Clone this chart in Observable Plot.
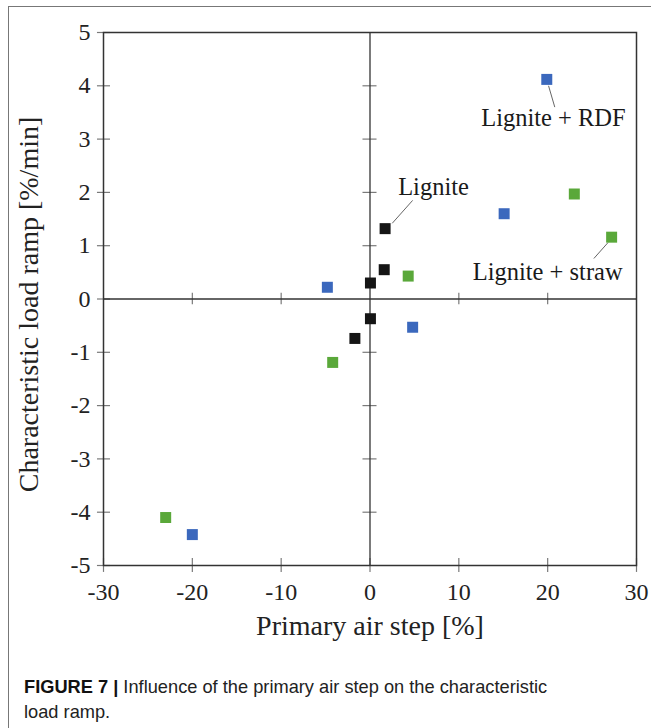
<!DOCTYPE html>
<html><head><meta charset="utf-8">
<script src="https://cdn.jsdelivr.net/npm/d3@7"></script>
<script src="https://cdn.jsdelivr.net/npm/@observablehq/plot@0.6"></script>
<style>
body{margin:0;background:#fff;width:651px;height:728px;overflow:hidden;position:relative;}
#border{position:absolute;left:7.5px;top:6px;width:660px;height:740px;border-left:1.5px solid #777;border-top:1.5px solid #777;}
#chart{position:absolute;left:0;top:0;}
#cap{position:absolute;left:24px;top:674px;width:640px;font-family:"Liberation Sans",Arial,sans-serif;font-size:19px;line-height:25px;color:#222;transform:scaleX(0.96);transform-origin:0 0;white-space:nowrap;}
#cap b{font-weight:bold;color:#111;}
</style></head><body>
<div id="border"></div>
<div id="chart"></div>
<div id="cap"><b>FIGURE 7 |</b> Influence of the primary air step on the characteristic<br>load ramp.</div>
<script>
const seriesNames = ["Lignite", "Lignite + RDF", "Lignite + straw"];
const seriesColors = ["#151515", "#3b68bd", "#5aa83a"];
const ligniteX = [1.7, 1.6, 0.05, 0.05, -1.7];
const ligniteY = [1.32, 0.55, 0.3, -0.37, -0.74];
const rdfX = [19.9, 15.1, -4.8, 4.8, -20.0];
const rdfY = [4.12, 1.6, 0.22, -0.53, -4.42];
const strawX = [23.0, 27.2, 4.3, -4.2, -23.0];
const strawY = [1.97, 1.16, 0.43, -1.19, -4.1];
const xTicks = [-30, -20, -10, 0, 10, 20, 30];
const yTicks = [-5, -4, -3, -2, -1, 0, 1, 2, 3, 4, 5];
const xLabel = "Primary air step [%]";
const yLabel = "Characteristic load ramp [%/min]";
const annText = ["Lignite + RDF", "Lignite", "Lignite + straw"];
const annX = [20.65, 7.15, 20.0];
const annY = [3.39, 2.09, 0.5];
const leadX1 = [20.1, 2.5, 25.2];
const leadY1 = [4.0, 1.42, 0.76];
const leadX2 = [20.8, 4.8, 26.8];
const leadY2 = [3.6, 1.85, 1.06];

const pts = [];
[[ligniteX, ligniteY, 0], [rdfX, rdfY, 1], [strawX, strawY, 2]].forEach(([xs, ys, k]) => {
  xs.forEach((x, i) => pts.push({x, y: ys[i], s: seriesNames[k]}));
});
const ann = annText.map((t, i) => ({t, x: annX[i], y: annY[i]}));
const leads = leadX1.map((x1, i) => ({x1, y1: leadY1[i], x2: leadX2[i], y2: leadY2[i]}));

const serif = "'Liberation Serif','Times New Roman',serif";
const innerX = xTicks.filter(d => d !== 0 && Math.abs(d) !== 30);
const innerY = yTicks.filter(d => d !== 0 && Math.abs(d) !== 5);
const tickStroke = "#7a7a7a";

const chart = Plot.plot({
  width: 651, height: 650,
  marginLeft: 103, marginRight: 15, marginTop: 32, marginBottom: 85,
  x: {domain: [-30, 30], axis: null},
  y: {domain: [-5, 5], axis: null},
  color: {domain: seriesNames, range: seriesColors},
  style: {fontFamily: serif, color: "#222", background: "transparent"},
  marks: [
    // ticks crossing the left and bottom frame
    Plot.ruleY(yTicks, {y: d => d, x1: -30 - 0.68, x2: -30 + 0.79, stroke: tickStroke, strokeWidth: 1.2}),
    Plot.ruleX(xTicks, {x: d => d, y1: -5 - 0.13, y2: -5 + 0.13, stroke: tickStroke, strokeWidth: 1.2}),
    // ticks on the central axes
    Plot.ruleY(innerY, {y: d => d, x1: -0.79, x2: 0.79, stroke: tickStroke, strokeWidth: 1.2}),
    Plot.ruleX(innerX, {x: d => d, y1: -0.11, y2: 0.11, stroke: tickStroke, strokeWidth: 1.2}),
    Plot.ruleX([0], {stroke: "#333", strokeWidth: 1.3}),
    Plot.ruleY([0], {stroke: "#333", strokeWidth: 1.3}),
    Plot.frame({stroke: "#333", strokeWidth: 1.5}),
    // tick labels
    Plot.text(yTicks, {x: -30, y: d => d, text: d => String(d), dx: -13, textAnchor: "end", fontSize: 24, fill: "#222"}),
    Plot.text(xTicks, {x: d => d, y: -5, text: d => String(d), dy: 27, textAnchor: "middle", fontSize: 24, fill: "#222"}),
    // axis titles
    Plot.text([xLabel], {frameAnchor: "bottom", dy: 61, lineAnchor: "middle", fontSize: 28, fill: "#222"}),
    Plot.text([yLabel], {frameAnchor: "left", textAnchor: "middle", lineAnchor: "middle", rotate: -90, dx: -74, dy: 5.5, fontSize: 28, fill: "#222"}),
    // annotations
    Plot.link(leads, {x1: "x1", y1: "y1", x2: "x2", y2: "y2", stroke: "#666", strokeWidth: 1}),
    Plot.text(ann, {x: "x", y: "y", text: "t", fontSize: 24.5, fill: "#1a1a1a"}),
    Plot.dot(pts, {x: "x", y: "y", fill: "s", symbol: "square", r: 6.2})
  ]
});
document.getElementById("chart").appendChild(chart);
</script>
</body></html>
